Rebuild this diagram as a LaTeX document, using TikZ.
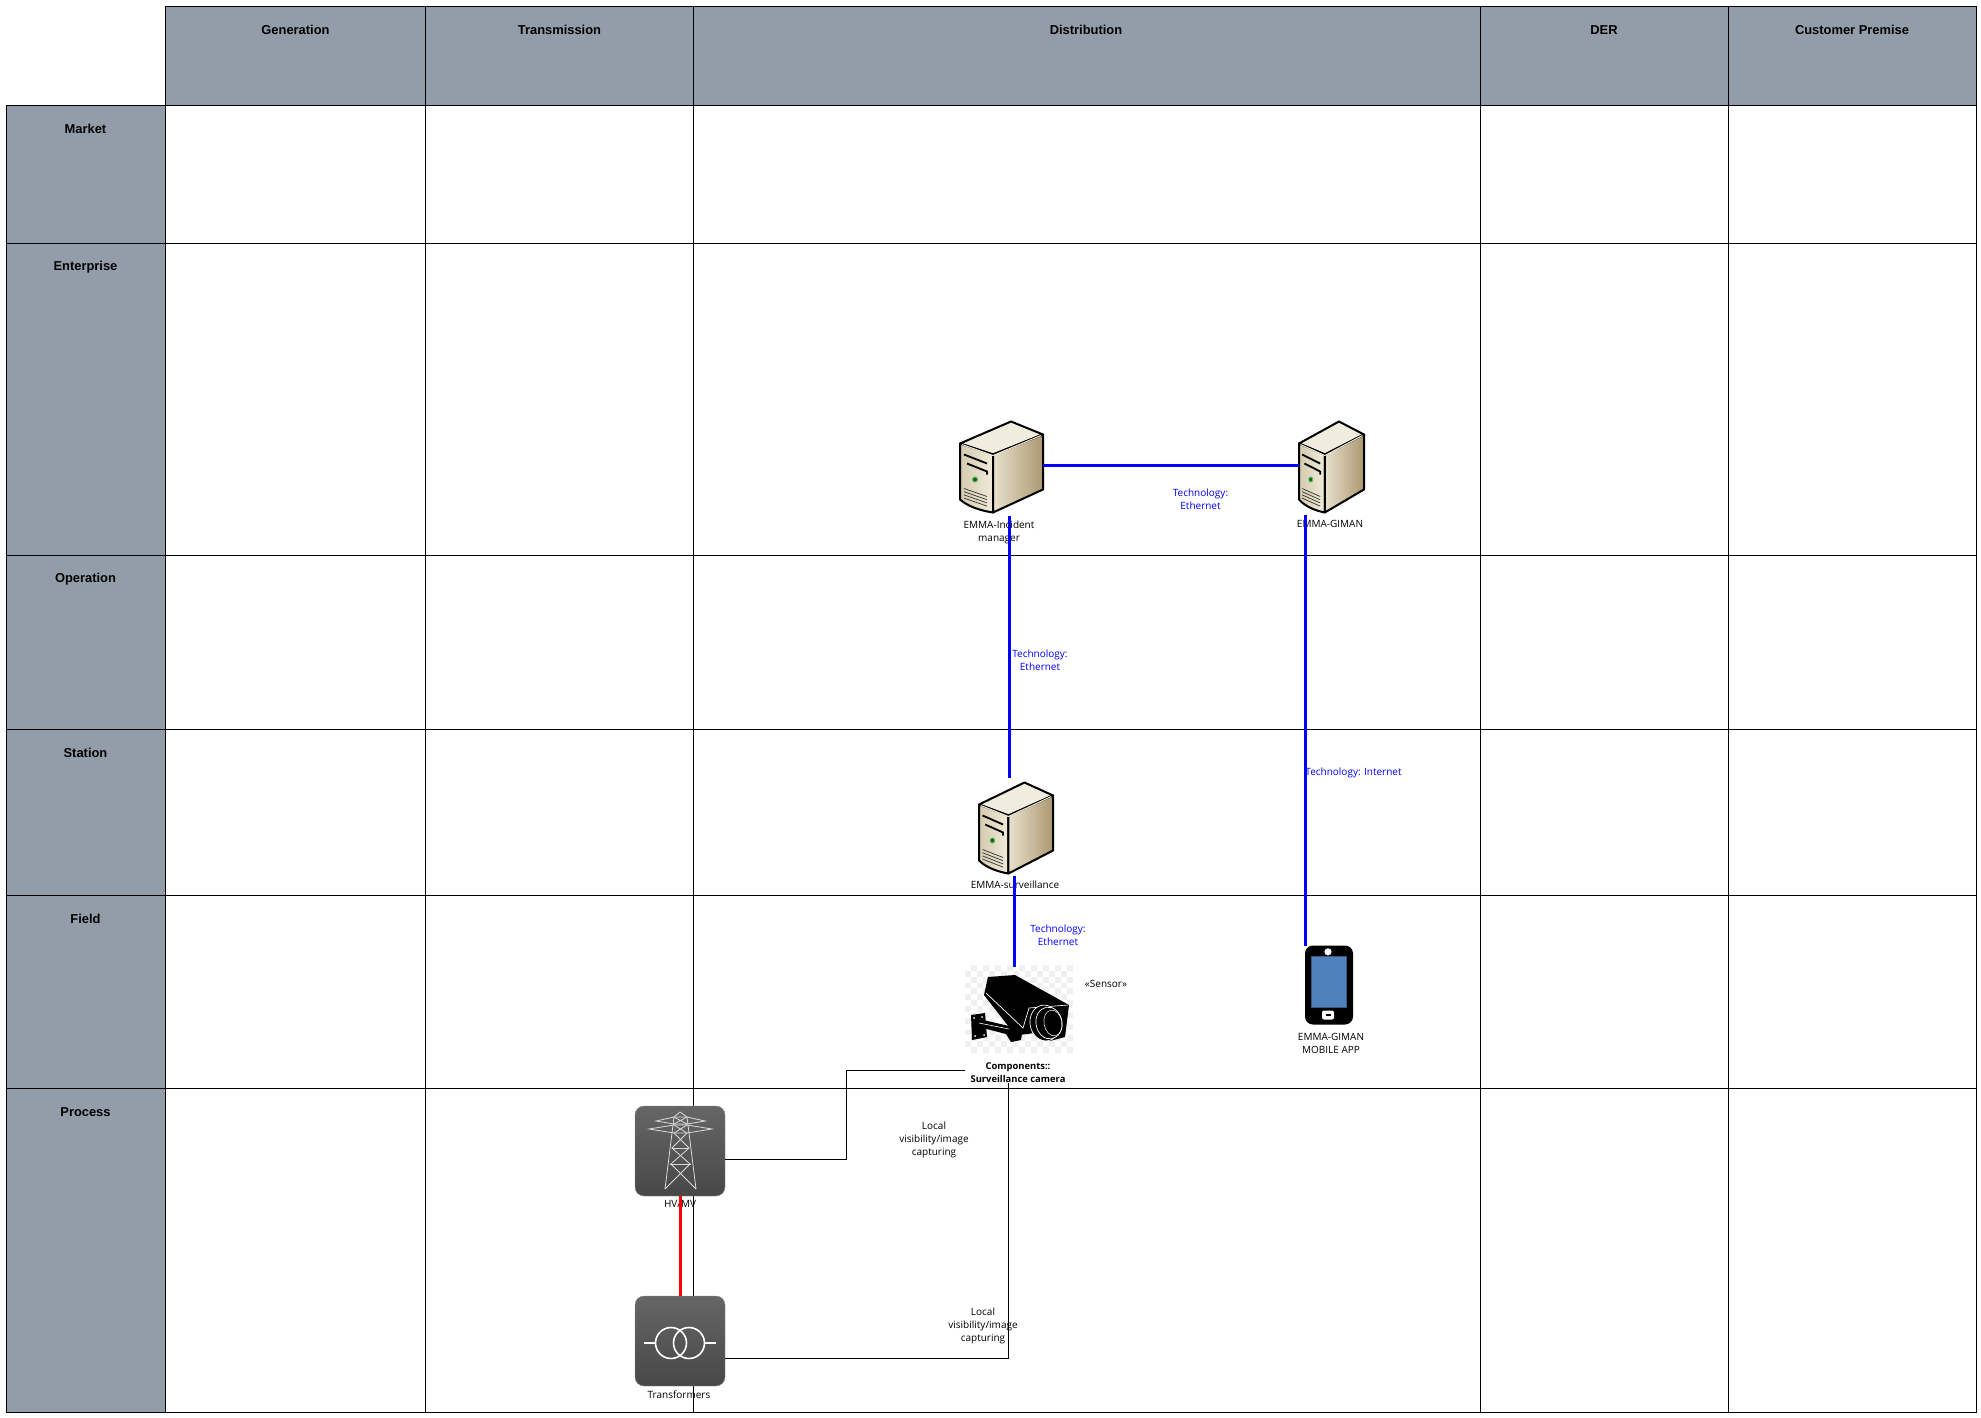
\documentclass[tikz,border=0pt]{standalone}
\usepackage{fontspec}
\setmainfont{Liberation Sans}
\newfontfamily\iconfont{Open Sans}
\usepackage{xcolor}
\definecolor{headgrey}{RGB}{147,157,169}
\definecolor{netblue}{RGB}{0,0,255}
\definecolor{hvred}{RGB}{255,0,0}
\definecolor{screenblue}{RGB}{79,129,189}
\definecolor{srvtop}{RGB}{240,236,222}
\definecolor{srvleft}{RGB}{240,235,218}
\definecolor{srvleftb}{RGB}{212,202,174}
\definecolor{srvright}{RGB}{232,225,205}
\definecolor{srvrightb}{RGB}{172,152,112}
\tikzset{
    headtext/.style={font=\fontsize{12.9}{15}\selectfont\bfseries, inner sep=0pt},
    lbl/.style={font=\iconfont\fontsize{10}{13}\selectfont, align=center, inner sep=0pt},
    techlbl/.style={lbl, text=netblue},
    iconbox/.style={inner sep=0pt, outer sep=0pt},
    netlink/.style={line width=3pt, netblue},
    hvlink/.style={line width=3pt, hvred},
    locallink/.style={line width=1pt, black},
    gridline/.style={line width=1pt, black},
    pics/servericon/.style={code={
        \fill[srvtop, draw=black, line width=2pt, line join=round] (0,22) -- (51,0) -- (83,13) -- (33,33) -- cycle;
        \shade[left color=srvleftb, right color=srvleft, draw=black, line width=2pt, line join=round]
            (0,22) -- (33,33) -- (33,91) .. controls (20,89) and (8,85) .. (0,78) -- cycle;
        \shade[left color=srvright, right color=srvrightb, draw=black, line width=2pt, line join=round]
            (33,33) -- (83,13) -- (83,68) -- (33,91) -- cycle;
        \draw[srvtop, line width=1pt] (2,23) -- (33,34) -- (81,14);
        \draw[line width=1.8pt] (4,33) -- (27,42);
        \draw[line width=1.8pt] (7,42) -- (27,50) -- (27,53);
        \fill[black!60!green, draw=black!50!green!60!white, line width=1pt] (15,58) circle (2.5);
        \foreach \i in {0,1,2,3} {
            \draw[line width=0.7pt, black!80] (4,67+3.2*\i) -- (27,75+3.2*\i);
        }
    }},
    pics/towericon/.style={code={
        \shade[top color=black!60, bottom color=black!72, draw=black!45, rounded corners=9pt] (0,0) rectangle (90,90);
        \begin{scope}[white!85!black, line width=0.8pt]
            \draw (30,83) -- (39,11) -- (45,6) -- (52,11) -- (61,83);
            \draw (39,11) -- (21,15) -- (39,18) -- (52,18) -- (70,15) -- (52,11) -- cycle;
            \draw (39,19) -- (14,23) -- (39,27) -- (52,27) -- (77,23) -- (52,19) -- cycle;
            \draw (39,11) -- (52,18) (52,11) -- (39,18) (39,19) -- (52,27) (52,19) -- (39,27);
            \draw (39,27) -- (54,42) -- (36,58) -- (61,83);
            \draw (52,27) -- (37,42) -- (55,58) -- (30,83);
            \draw (37,42) -- (54,42) (35,58) -- (56,58);
        \end{scope}
    }},
    pics/xfmricon/.style={code={
        \shade[top color=black!60, bottom color=black!72, draw=black!45, rounded corners=9pt] (0,0) rectangle (90,90);
        \begin{scope}[white, line width=1.6pt]
            \draw (36,47) circle (15.5);
            \draw (54,47) circle (15.5);
            \draw (9,47) -- (20.5,47);
            \draw (69.5,47) -- (81,47);
        \end{scope}
    }},
    pics/phoneicon/.style={code={
        \fill[black] (0,0) [rounded corners=8pt] rectangle (48,79);
        \fill[screenblue, draw=screenblue!70!black, line width=1pt] (6,11) rectangle (41,62);
        \fill[white] (23,6.3) circle (3.6);
        \fill[white] (17,65) [rounded corners=2pt] rectangle (29,74);
        \fill[black] (20.5,68.6) rectangle (25.5,70.4);
    }},
    pics/cameraicon/.style={code={
        % transparent-look backdrop
        \fill[black!6] (0,0) rectangle (108,88);
        \foreach \i in {0,...,17} {
            \foreach \j in {0,...,14} {
                \pgfmathtruncatemacro{\k}{mod(\i+\j,2)}
                \ifnum\k=0 \fill[white] (\i*6,\j*5.87) rectangle ++(6,5.87); \fi
            }
        }
        % bracket
        \fill[black] (6,50) -- (20,48) -- (22,72) -- (7,75) -- cycle;
        \fill[black] (14,54) -- (44,61) -- (58,62) -- (56,75) -- (46,77) -- (41,69) -- (14,62) -- cycle;
        \fill[white] (9,53) circle (1) (17,52) circle (1) (10,71) circle (1) (19,70) circle (1);
        \draw[white, line width=0.6pt] (14,58) -- (44,64);
        % body
        \fill[black] (23,12) -- (50,10) -- (104,40) -- (100,72) -- (85,76) -- (70,68) -- (54,70) -- (44,62) -- (19,30) -- cycle;
        \draw[white, line width=0.7pt] (21,28) -- (58,63) -- (64,43) -- (103,40);
        % lens
        \draw[white, fill=black, line width=0.7pt, rotate around={10:(80,58)}] (80,58) ellipse (15 and 18);
        \draw[white, fill=black, line width=0.7pt, rotate around={10:(84,58)}] (84,58) ellipse (13 and 16);
        \draw[white, line width=0.5pt, rotate around={10:(88,58)}] (88,58) ellipse (9 and 13);
    }},
}
\begin{document}
\begin{tikzpicture}[x=1pt, y=-1pt]
    \useasboundingbox (0,0) rectangle (1981,1418);

    % Header bands
    \fill[headgrey] (165.5,6.5) rectangle (1976.5,105.5);
    \fill[headgrey] (6.5,105.5) rectangle (165.5,1412.5);

    % Grid
    \foreach \xpos in {165.5,425.5,693.5,1480.5,1728.5,1976.5} {
        \draw[gridline] (\xpos,6.5) -- (\xpos,1412.5);
    }
    \draw[gridline] (6.5,105.5) -- (6.5,1412.5);
    \draw[gridline] (165.5,6.5) -- (1976.5,6.5);
    \foreach \ypos in {105.5,243.5,555.5,729.5,895.5,1088.5,1412.5} {
        \draw[gridline] (6.5,\ypos) -- (1976.5,\ypos);
    }

    % Column and row titles
    \foreach \xpos/\name/\title in {295.5/colGen/Generation, 559.5/colTrans/Transmission, 1086/colDist/Distribution, 1604/colDer/DER, 1852/colCust/Customer Premise} {
        \node[headtext] (\name) at (\xpos,30) {\title};
    }
    \foreach \ypos/\name/\title in {129/rowMarket/Market, 267/rowEnt/Enterprise, 579.5/rowOper/Operation, 753/rowStat/Station, 919/rowField/Field, 1112/rowProc/Process} {
        \node[headtext] (\name) at (85.5,\ypos) {\title};
    }

    % Labels
    \node[lbl] (lblIncident) at (999,532.5) {EMMA-Incident\\manager};
    \node[lbl] (lblGiman) at (1330,524) {EMMA-GIMAN};
    \node[lbl] (lblSurv) at (1015,885) {EMMA-surveillance};
    \node[lbl] (lblMobile) at (1331,1043) {EMMA-GIMAN\\MOBILE APP};
    \node[lbl] (lblSensor) at (1106,984) {«Sensor»};
    \node[lbl, font=\iconfont\fontsize{9.4}{13}\selectfont\bfseries] (lblCam) at (1018,1072.5) {Components::\\Surveillance camera};
    \node[lbl] (lblHv) at (680,1204) {HV/MV};
    \node[lbl] (lblXfmr) at (679,1395) {Transformers};
    \node[lbl] (lblLocalA) at (934,1140) {Local\\visibility/image\\capturing};
    \node[lbl] (lblLocalB) at (983,1326) {Local\\visibility/image\\capturing};
    \node[techlbl] (techA) at (1200.5,499.5) {Technology:\\Ethernet};
    \node[techlbl] (techB) at (1040,660) {Technology:\\Ethernet};
    \node[techlbl] (techC) at (1353.5,772.5) {Technology: Internet};
    \node[techlbl] (techD) at (1058,935.5) {Technology:\\Ethernet};

    % Icons
    \node[iconbox, minimum width=83pt, minimum height=91pt] (srvA) at (1001.5,467) {};
    \pic at (srvA.north west) {servericon};
    \node[iconbox, minimum width=65pt, minimum height=91pt] (srvG) at (1331.5,467) {};
    \pic[xscale=0.783] at (srvG.north west) {servericon};
    \node[iconbox, minimum width=74pt, minimum height=91pt] (srvB) at (1016,828) {};
    \pic[xscale=0.892] at (srvB.north west) {servericon};
    \node[iconbox, minimum width=108pt, minimum height=88pt] (camera) at (1019,1009) {};
    \pic at (camera.north west) {cameraicon};
    \node[iconbox, minimum width=48pt, minimum height=79pt] (phone) at (1329,985) {};
    \pic at (phone.north west) {phoneicon};
    \node[iconbox, minimum width=90pt, minimum height=90pt] (tower) at (680,1151) {};
    \pic at (tower.north west) {towericon};
    \node[iconbox, minimum width=90pt, minimum height=90pt] (xfmr) at (680,1341) {};
    \pic at (xfmr.north west) {xfmricon};

    % Links
    \draw[netlink] ([yshift=2pt]srvA.east) -- ([yshift=2pt]srvG.west);
    \draw[netlink] ([xshift=7.5pt, yshift=-3pt]srvA.south) -- ([xshift=-7pt, yshift=5pt]srvB.north);
    \draw[netlink] ([xshift=-2pt, yshift=-2pt]srvB.south) -- ([xshift=-5pt, yshift=-2pt]camera.north);
    \draw[netlink] ([xshift=-26pt, yshift=-2pt]srvG.south) -- ([xshift=-23.5pt, yshift=-0.5pt]phone.north);
    \draw[hvlink] (tower.south) -- (xfmr.north);
    \draw[locallink] ([yshift=-8pt]tower.east) -- ++(121,0) |- ([xshift=-5pt, yshift=2.5pt]lblCam.west);
    \draw[locallink] ([yshift=-17pt]xfmr.east) -| ([xshift=-10pt]lblCam.south);
\end{tikzpicture}
\end{document}
